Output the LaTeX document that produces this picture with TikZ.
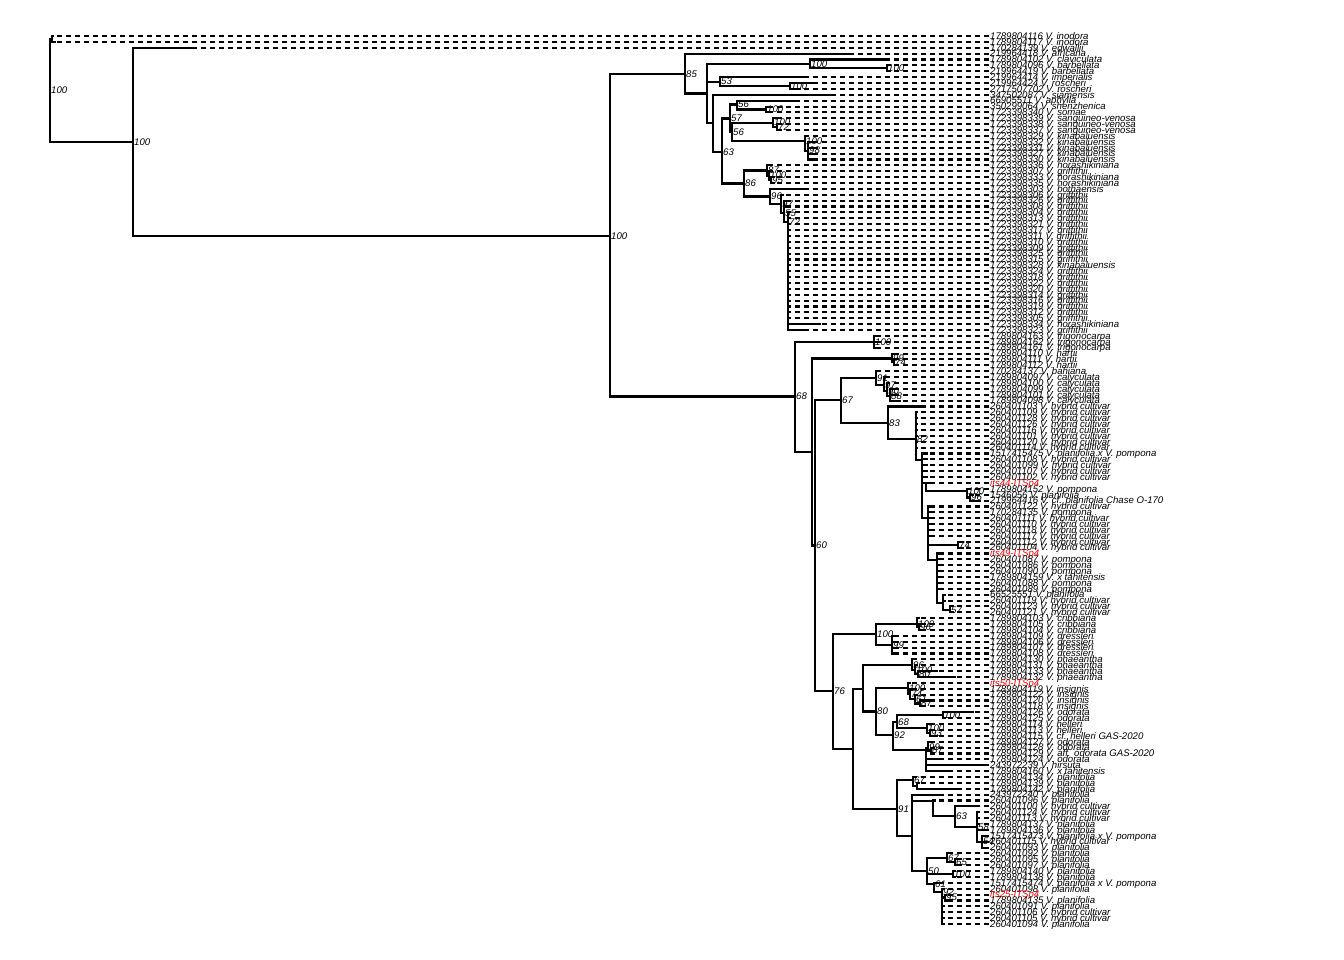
\documentclass[tikz,border=0pt]{standalone}
\usepackage{fontspec}
\setmainfont{Liberation Sans}
\tikzset{
  br/.style={line width=2.1pt, line cap=rect},
  dl/.style={line width=2.1pt, dash pattern=on 5pt off 4pt},
  tl/.style={anchor=base west, inner sep=0pt, font=\fontsize{9.6}{10}\selectfont\itshape},
  bs/.style={anchor=base west, inner sep=0pt, font=\fontsize{9.6}{10}\selectfont\itshape},
}
\begin{document}
\begin{tikzpicture}[x=1pt, y=-1pt]
  \useasboundingbox (0,0) rectangle (1344,960);

  % tips: index / end of branch / colour / label
  \foreach \tip/\xe/\col/\lab in {
    1/53/black/1789804116 V. inodora, 2/55/black/1789804117 V. inodora,
    3/195/black/170284139 V. edwallii, 4/850/black/219964418 V. africana,
    5/887/black/1789804102 V. claviculata, 6/890/black/1789804096 V. barbellata,
    7/890/black/219964419 V. barbellata, 8/807/black/219964414 V. imperialis,
    9/817/black/219964424 V. roscheri, 10/800/black/2717507702 V. roscheri,
    11/833/black/347502087 V. siamensis, 12/797/black/66905511 V. aphylla,
    13/770/black/350299064 V. shenzhenica, 14/770/black/1723398340 V. somae,
    15/777/black/1723398339 V. sanguineo-venosa, 16/780/black/1723398338 V. sanguineo-venosa,
    17/780/black/1723398337 V. sanguineo-venosa, 18/808/black/1723398329 V. kinabaluensis,
    19/812/black/1723398332 V. kinabaluensis, 20/812/black/1723398331 V. kinabaluensis,
    21/812/black/1723398327 V. kinabaluensis, 22/812/black/1723398330 V. kinabaluensis,
    23/770/black/1723398336 V. horashikiniana, 24/772/black/1723398307 V. griffithii,
    25/774/black/1723398333 V. horashikiniana, 26/774/black/1723398335 V. horashikiniana,
    27/803/black/1723398303 V. bothaensis, 28/783/black/1723398306 V. griffithii,
    29/786/black/1723398326 V. griffithii, 30/786/black/1723398308 V. griffithii,
    31/790/black/1723398304 V. griffithii, 32/790/black/1723398313 V. griffithii,
    33/790/black/1723398321 V. griffithii, 34/790/black/1723398317 V. griffithii,
    35/790/black/1723398311 V. griffithii, 36/790/black/1723398310 V. griffithii,
    37/790/black/1723398309 V. griffithii, 38/790/black/1723398325 V. griffithii,
    39/790/black/1723398315 V. griffithii, 40/790/black/1723398328 V. kinabaluensis,
    41/790/black/1723398324 V. griffithii, 42/790/black/1723398318 V. griffithii,
    43/790/black/1723398322 V. griffithii, 44/790/black/1723398320 V. griffithii,
    45/790/black/1723398314 V. griffithii, 46/790/black/1723398316 V. griffithii,
    47/790/black/1723398319 V. griffithii, 48/790/black/1723398312 V. griffithii,
    49/790/black/1723398305 V. griffithii, 50/820/black/1723398334 V. horashikiniana,
    51/807/black/1723398323 V. griffithii, 52/876/black/1789804163 V. trigonocarpa,
    53/876/black/1789804162 V. trigonocarpa, 54/876/black/1789804161 V. trigonocarpa,
    55/895/black/1789804110 V. hartii, 56/897/black/1789804111 V. hartii,
    57/897/black/1789804112 V. hartii, 58/877/black/170284137 V. bahiana,
    59/886/black/1789804097 V. calyculata, 60/889/black/1789804100 V. calyculata,
    61/893/black/1789804099 V. calyculata, 62/893/black/1789804101 V. calyculata,
    63/900/black/1789804098 V. calyculata, 64/923/black/260401103 V. hybrid cultivar,
    65/917/black/260401109 V. hybrid cultivar, 66/917/black/260401128 V. hybrid cultivar,
    67/917/black/260401126 V. hybrid cultivar, 68/917/black/260401116 V. hybrid cultivar,
    69/917/black/260401101 V. hybrid cultivar, 70/917/black/260401120 V. hybrid cultivar,
    71/917/black/260401114 V. hybrid cultivar, 72/927/black/1517415475 V. planifolia x V. pompona,
    73/927/black/260401108 V. hybrid cultivar, 74/927/black/260401099 V. hybrid cultivar,
    75/927/black/260401107 V. hybrid cultivar, 76/927/black/260401102 V. hybrid cultivar,
    77/930/red/its44-ITSp4, 78/970/black/1789804152 V. pompona,
    79/973/black/1546056 V. planifolia, 80/980/black/219964416 V. cf. planifolia Chase O-170,
    81/930/black/260401122 V. hybrid cultivar, 82/930/black/170284135 V. pompona,
    83/930/black/260401111 V. hybrid cultivar, 84/930/black/260401110 V. hybrid cultivar,
    85/930/black/260401118 V. hybrid cultivar, 86/930/black/260401117 V. hybrid cultivar,
    87/963/black/260401112 V. hybrid cultivar, 88/963/black/260401104 V. hybrid cultivar,
    89/940/red/its49-ITSp4, 90/940/black/260401087 V. pompona,
    91/940/black/260401086 V. pompona, 92/940/black/260401090 V. pompona,
    93/940/black/1789804159 V. x tahitensis, 94/940/black/260401088 V. pompona,
    95/940/black/260401089 V. pompona, 96/945/black/66525551 V. planifolia,
    97/945/black/260401119 V. hybrid cultivar, 98/953/black/260401123 V. hybrid cultivar,
    99/953/black/260401121 V. hybrid cultivar, 100/919/black/1789804103 V. cribbiana,
    101/922/black/1789804105 V. cribbiana, 102/922/black/1789804104 V. cribbiana,
    103/894/black/1789804109 V. dressleri, 104/894/black/1789804106 V. dressleri,
    105/894/black/1789804107 V. dressleri, 106/894/black/1789804108 V. dressleri,
    107/914/black/1789804130 V. phaeantha, 108/917/black/1789804131 V. phaeantha,
    109/937/black/1789804133 V. phaeantha, 110/955/black/1789804132 V. phaeantha,
    111/910/red/its50-ITSp4, 112/912/black/1789804119 V. insignis,
    113/917/black/1789804122 V. insignis, 114/933/black/1789804120 V. insignis,
    115/925/black/1789804118 V. insignis, 116/973/black/1789804126 V. odorata,
    117/945/black/1789804125 V. odorata, 118/929/black/1789804114 V. helleri,
    119/932/black/1789804113 V. helleri, 120/937/black/1789804115 V. cf. helleri GAS-2020,
    121/930/black/1789804127 V. odorata, 122/934/black/1789804128 V. odorata,
    123/934/black/1789804129 V. aff. odorata GAS-2020, 124/940/black/1789804124 V. odorata,
    125/988/black/243972239 V. hirsuta, 126/947/black/1789804160 V. x tahitensis,
    127/915/black/1789804134 V. planifolia, 128/919/black/1789804139 V. planifolia,
    129/960/black/1789804142 V. planifolia, 130/943/black/243972240 V. planifolia,
    131/935/black/260401096 V. planifolia, 132/975/black/260401100 V. hybrid cultivar,
    133/979/black/260401124 V. hybrid cultivar, 134/979/black/260401113 V. hybrid cultivar,
    135/979/black/1789804137 V. planifolia, 136/988/black/1789804136 V. planifolia,
    137/988/black/1517415473 V. planifolia x V. pompona, 138/985/black/260401115 V. hybrid cultivar,
    139/984/black/260401093 V. planifolia, 140/950/black/260401092 V. planifolia,
    141/957/black/260401095 V. planifolia, 142/957/black/260401097 V. planifolia,
    143/955/black/1789804140 V. planifolia, 144/955/black/1789804138 V. planifolia,
    145/943/black/1517415474 V. planifolia x V. pompona, 146/944/black/260401098 V. planifolia,
    147/946/red/its25-ITSp4, 148/947/black/1789804135 V. planifolia,
    149/944/black/260401091 V. planifolia, 150/944/black/260401106 V. hybrid cultivar,
    151/944/black/260401105 V. hybrid cultivar, 152/944/black/260401094 V. planifolia}
  {
    \pgfmathsetmacro\ty{36+(\tip-1)*5.8808}
    \coordinate (e\tip) at (\xe,\ty);
    \coordinate (a\tip) at (989,\ty);
    \node[tl, text=\col] (t\tip) at (990,\ty+3.3) {\lab};
    \draw[dl] (a\tip) -- (e\tip);
  }

  % internal nodes: name / x / y / support
  \foreach \nd/\nx/\ny/\sv in {
    root/50/90.5/100, nIno/52/39/{}, nB/133/142/100, nC/610/236/100,
    n85/685/74/85, nXa/707/93.5/{}, nCl/810/64/100, nBb/887/68.3/100,
    n53/720/81.6/53, nRo/790/86/100, nZ/713/123/{}, n63a/722/152/63,
    n57a/730/118.5/57, n56a/737/104.5/56, nSh/766/109.5/100, n56b/732/132/56,
    nSv/773/122.7/100, n72s/777/127.2/72, nKi/805/141/100, n98k/808/150.6/98,
    n86/744/183.5/86, n87h/767/170.5/87, nHo/769/175.6/100, n95h/771/180/95,
    n96g/770/196.5/96, n97g/781/204/97, n55g/784/213/55, n72g/788/222/72,
    n68/795/396.5/68, nTr/874/341.8/100, nA/812/452/{}, nHa/892/358.5/99,
    n74h/894/362.3/74, n60/815/545.5/60, n67a/841/400/67, n91a/876/378/91,
    n97c/884/385/97, n90c/887/391/90, n88c/890/396/88, n83/888/423/83,
    n82/916/439/82, nR/922/460/{}, nS/926/483/{}, nPo/967/491/100,
    n96b/970/497.5/96, nQ/928/518/{}, n74p/958/545/74, nP/937/560/{},
    nPb/943/603/{}, n57p/950/610/57, n76/833/691/76, nCb/876/634/100,
    nCr/917/624/100, n96c/919/627/96, n99d/892/644.8/99, nU/853/749/{},
    nV/863/689/{}, n96p/912/664.7/96, n100p/915/669.8/100, n80p/918/674.2/80,
    n80/876/711.5/80, nIn/908/688.3/100, n74i/910/693.9/74, n61i/915/699/61,
    n87i/920/703.5/87, n92/893/735/92, n68o/897/721.7/68, nOd1/943/715.2/100,
    nHe/927/728.4/100, n93/930/732.9/93, nOd/926/750/{}, n99o/928/747.6/99,
    n87o/931/750.5/87, n91b/897/809/91, n67b/913/780/67, n67x/917/785.7/{},
    nW/912/836/{}, nX/933/801/{}, n63b/955/816/63, n58/977/827/58,
    n54/982/841.6/54, nY/927/871/50, n67c/947/857.8/67, n65/955/862.2/65,
    nPl/953/873.8/100, n61b/934/884/61, n92b/942/892/92, n95b/945/897.5/95}
  {
    \coordinate (\nd) at (\nx,\ny);
    \node[bs] (s\nd) at (\nx+1,\ny+3.3) {\sv};
  }

  % branches
  \foreach \pa/\ch in {
    root/nIno, root/nB, nIno/e1, nIno/e2, nB/e3, nB/nC, nC/n85, nC/n68,
    n85/e4, n85/nXa, nXa/nCl, nXa/n53, nXa/nZ, nCl/e5, nCl/nBb, nBb/e6, nBb/e7,
    n53/e8, n53/nRo, nRo/e9, nRo/e10, nZ/e11, nZ/n63a, n63a/n57a, n63a/n86,
    n57a/n56a, n57a/n56b, n56a/e12, n56a/nSh, nSh/e13, nSh/e14,
    n56b/nSv, n56b/nKi, nSv/e15, nSv/n72s, n72s/e16, n72s/e17,
    nKi/e18, nKi/n98k, n98k/e19, n98k/e20, n98k/e21, n98k/e22,
    n86/n87h, n86/n96g, n87h/e23, n87h/nHo, nHo/e24, nHo/n95h, n95h/e25, n95h/e26,
    n96g/e27, n96g/n97g, n97g/e28, n97g/n55g, n55g/e29, n55g/e30, n55g/n72g,
    n68/nTr, n68/nA, nTr/e52, nTr/e53, nTr/e54, nA/nHa, nA/n60,
    nHa/e55, nHa/n74h, n74h/e56, n74h/e57, n60/n67a, n60/n76,
    n67a/n91a, n67a/n83, n91a/e58, n91a/n97c, n97c/e59, n97c/n90c,
    n90c/e60, n90c/n88c, n88c/e61, n88c/e62, n88c/e63,
    n83/e64, n83/n82, n82/nR, nR/nS, nR/nQ, nS/e77, nS/nPo,
    nPo/e78, nPo/n96b, n96b/e79, n96b/e80, nQ/n74p, nQ/nP, n74p/e87, n74p/e88,
    nP/nPb, nPb/e96, nPb/e97, nPb/n57p, n57p/e98, n57p/e99,
    n76/nCb, n76/nU, nCb/nCr, nCb/n99d, nCr/e100, nCr/n96c, n96c/e101, n96c/e102,
    nU/nV, nU/n91b, nV/n96p, nV/n80, n96p/e107, n96p/n100p, n100p/e108, n100p/n80p,
    n80p/e109, n80p/e110, n80/nIn, n80/n92, nIn/e111, nIn/n74i, n74i/e112, n74i/n61i,
    n61i/e113, n61i/n87i, n87i/e114, n87i/e115, n92/n68o, n92/nOd,
    n68o/nOd1, n68o/nHe, nOd1/e116, nOd1/e117, nHe/e118, nHe/n93, n93/e119, n93/e120,
    nOd/n99o, nOd/e124, nOd/e125, nOd/e126, n99o/e121, n99o/n87o, n87o/e122, n87o/e123,
    n91b/n67b, n91b/nW, n67b/e127, n67b/n67x, n67x/e128, n67x/e129,
    nW/e130, nW/nX, nW/nY, nX/e131, nX/n63b, n63b/e132, n63b/n58,
    n58/n54, n54/e137, n54/e138, n54/e139, nY/n67c, nY/nPl, nY/n61b,
    n67c/e140, n67c/n65, n65/e141, n65/e142, nPl/e143, nPl/e144,
    n61b/e145, n61b/n92b, n92b/e146, n92b/n95b, n95b/e147, n95b/e148}
    \draw[br] (\pa) |- (\ch);

  % polytomies
  \foreach \k in {31,...,51} \draw[br] (n72g) |- (e\k);
  \foreach \k in {65,...,71} \draw[br] (n82) |- (e\k);
  \foreach \k in {72,...,76} \draw[br] (nR) |- (e\k);
  \foreach \k in {81,...,86} \draw[br] (nQ) |- (e\k);
  \foreach \k in {89,...,95} \draw[br] (nP) |- (e\k);
  \foreach \k in {103,...,106} \draw[br] (n99d) |- (e\k);
  \foreach \k in {133,...,136} \draw[br] (n58) |- (e\k);
  \foreach \k in {149,...,152} \draw[br] (n92b) |- (e\k);
\end{tikzpicture}
\end{document}
